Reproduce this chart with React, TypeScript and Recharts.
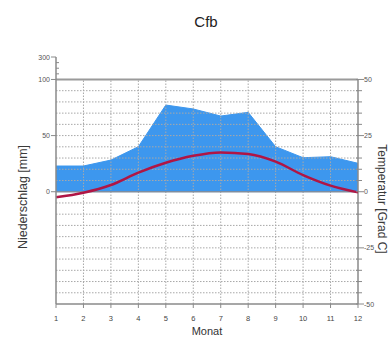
import React from 'react';
import { ComposedChart, Area, Line, XAxis, YAxis, ReferenceLine } from 'recharts';

const months = [1, 2, 3, 4, 5, 6, 7, 8, 9, 10, 11, 12];
const precipMm = [22.9, 22.9, 28.2, 40.1, 77.2, 73.7, 67.4, 70.7, 40.1, 30.3, 31.2, 25.3];
const tempC = [-2.5, -0.45, 3.0, 8.5, 12.9, 16.0, 17.5, 16.8, 13.4, 7.4, 2.7, -0.3];
const rightTicks = [-50, -45, -40, -35, -30, -25, -20, -15, -10, -5, 0, 5, 10, 15, 20, 25, 30, 35, 40, 45, 50];
const leftTicks = [0, 25, 50, 52.5, 55, 57.5, 60];
const leftLabels: Record<string, string> = { '0': '0', '25': '50', '50': '100', '60': '300' };
const gridValues = [-45, -40, -35, -30, -25, -20, -15, -10, -5, 5, 10, 15, 20, 25, 30, 35, 40, 45];
const gridMonths = [2, 3, 4, 5, 6, 7, 8, 9, 10, 11];

// Walter-Lieth: 10 °C = 20 mm below 100 mm
const data = months.map((m, i) => ({ m, p: precipMm[i] / 2, t: tempC[i] }));

const FONT = '"Liberation Sans", Arial, sans-serif';
const AX = '#8a8a8a';
const GRID = '#a8a8a8';

const RightTick = (props: any) => {
  const { x, y, payload } = props;
  const v = payload.value;
  const major = v % 25 === 0;
  return (
    <g>
      <line x1={x - 2} y1={y} x2={x + (major ? 6 : 4)} y2={y} stroke={AX} strokeWidth={1} />
      {major && (
        <text x={x + 6} y={y} dy={2.5} fontSize={7} fill="#555" fontFamily={FONT} textAnchor="start">
          {String(v)}
        </text>
      )}
    </g>
  );
};

const LeftTick = (props: any) => {
  const { x, y, payload } = props;
  const v = payload.value;
  const lab = leftLabels[String(v)];
  if (lab === undefined) {
    return <line x1={x} y1={y} x2={x + 3} y2={y} stroke={AX} strokeWidth={1} />;
  }
  return (
    <g>
      <line x1={x - 5} y1={y} x2={x} y2={y} stroke={AX} strokeWidth={1} />
      <text x={x - 6} y={y} dy={2.5} fontSize={7} fill="#555" fontFamily={FONT} textAnchor="end">
        {lab}
      </text>
    </g>
  );
};

export default function App() {
  return (
    <div style={{ position: 'absolute', left: 0, top: 0, width: 391, height: 338, background: '#fff', fontFamily: FONT }}>
      <div style={{ position: 'absolute', left: 156, width: 100, top: 14, textAlign: 'center', fontSize: 15, lineHeight: '16px', color: '#222' }}>Cfb</div>
      <div style={{ position: 'absolute', left: 23, top: 197, transform: 'translate(-50%,-50%) rotate(-90deg)', whiteSpace: 'nowrap', fontSize: 12.5, color: '#3a3a3a' }}>Niederschlag [mm]</div>
      <div style={{ position: 'absolute', left: 381, top: 199, transform: 'translate(-50%,-50%) rotate(90deg)', whiteSpace: 'nowrap', fontSize: 12, lineHeight: '13px', color: '#3a3a3a' }}>Temperatur [Grad C]</div>
      <div style={{ position: 'absolute', left: 157, width: 100, top: 325, textAlign: 'center', fontSize: 11, lineHeight: '12px', color: '#333' }}>Monat</div>
      <ComposedChart width={391} height={338} data={data} margin={{ top: 57, right: 0, bottom: 10, left: 0 }}>
        <XAxis
          dataKey="m"
          type="number"
          domain={[1, 12]}
          ticks={months}
          interval={0}
          axisLine={{ stroke: AX, strokeWidth: 1.5 }}
          tickLine={{ stroke: AX }}
          tickSize={4}
          tickMargin={8}
          height={24}
          tick={{ fontSize: 7.5, fill: '#444', fontFamily: FONT }}
        />
        <YAxis
          yAxisId="p"
          orientation="left"
          type="number"
          domain={[-50, 60]}
          ticks={leftTicks}
          interval={0}
          width={56}
          axisLine={{ stroke: AX, strokeWidth: 1.5 }}
          tickLine={false}
          tickSize={0}
          tickMargin={0}
          tick={<LeftTick />}
        />
        <YAxis
          yAxisId="t"
          orientation="right"
          type="number"
          domain={[-50, 60]}
          ticks={rightTicks}
          interval={0}
          width={33}
          axisLine={false}
          tickLine={false}
          tickSize={0}
          tickMargin={0}
          tick={<RightTick />}
        />
        <Area
          yAxisId="p"
          dataKey="p"
          type="linear"
          baseValue={0}
          fill="#3d97ee"
          fillOpacity={1}
          stroke="#3d97ee"
          strokeWidth={1}
          isAnimationActive={false}
          dot={false}
          activeDot={false}
        />
        {gridValues.map((v) => (
          <ReferenceLine key={'h' + v} yAxisId="p" y={v} stroke={GRID} strokeDasharray="1.5 1.5" strokeWidth={1} />
        ))}
        {gridMonths.map((m) => (
          <ReferenceLine
            key={'v' + m}
            yAxisId="p"
            segment={[{ x: m, y: -50 }, { x: m, y: 50 }]}
            stroke={GRID}
            strokeDasharray="1.5 1.5"
            strokeWidth={1}
          />
        ))}
        <ReferenceLine yAxisId="p" y={0} stroke="#7f8ea0" strokeWidth={1.5} />
        <ReferenceLine yAxisId="p" y={50} stroke="#9a9a9a" strokeWidth={2} />
        <ReferenceLine yAxisId="t" segment={[{ x: 12, y: -50 }, { x: 12, y: 50 }]} stroke={AX} strokeWidth={1.5} />
        <Line
          yAxisId="t"
          dataKey="t"
          type="monotone"
          stroke="#b01545"
          strokeWidth={2.5}
          dot={false}
          activeDot={false}
          isAnimationActive={false}
        />
      </ComposedChart>
    </div>
  );
}
